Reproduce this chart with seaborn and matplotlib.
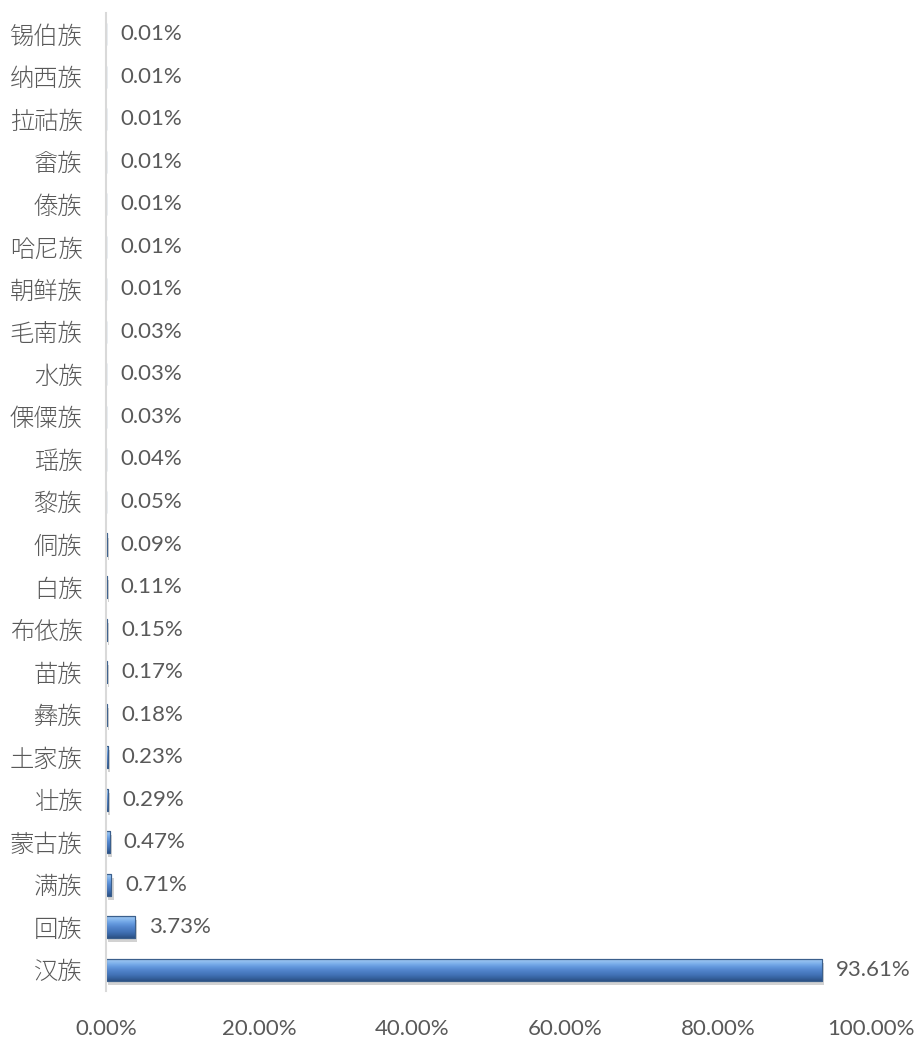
import numpy as np
import pandas as pd
import matplotlib
matplotlib.use("Agg")
import matplotlib.pyplot as plt
import matplotlib.patheffects as pe
import seaborn as sns
from matplotlib.colors import LinearSegmentedColormap

categories = ["锡伯族", "纳西族", "拉祜族", "畲族", "傣族", "哈尼族", "朝鲜族", "毛南族",
              "水族", "傈僳族", "瑶族", "黎族", "侗族", "白族", "布依族", "苗族", "彝族",
              "土家族", "壮族", "蒙古族", "满族", "回族", "汉族"]
values = [0.01, 0.01, 0.01, 0.01, 0.01, 0.01, 0.01, 0.03, 0.03, 0.03, 0.04, 0.05, 0.09,
          0.11, 0.15, 0.17, 0.18, 0.23, 0.29, 0.47, 0.71, 3.73, 93.61]
xticks = [0, 20, 40, 60, 80, 100]

sns.set_theme(style="white")
plt.rcParams['font.family'] = ['Noto Sans CJK JP', 'Noto Sans CJK SC', 'DejaVu Sans']

df = pd.DataFrame({"cat": categories, "val": values})

fig = plt.figure(figsize=(9.14, 10.39), dpi=100)
ax = fig.add_axes([0.116, 0.0462, 0.837, 0.9413])

sns.barplot(data=df, x="val", y="cat", order=categories, orient="h", ax=ax,
            color="#5a8fd6", width=0.52, edgecolor="#3b5f8c", linewidth=0.8)

ax.set_xlim(0, 100)
ax.set_ylim(len(categories) - 0.5, -0.5)

cmap = LinearSegmentedColormap.from_list(
    "bev", ["#7f9fca", "#93c0f0", "#7aaeea", "#6499de", "#5588cf", "#4a7cc2",
            "#4171b4", "#36629f", "#2c5184"])
grad = cmap(np.linspace(0, 1, 64))[:, None, :]
for p in ax.patches:
    bb = p.get_bbox()
    if bb.width <= 0:
        continue
    p.set_path_effects([pe.SimplePatchShadow(offset=(1.5, -3), shadow_rgbFace="#808080",
                                             alpha=0.35), pe.Normal()])
    im = ax.imshow(grad, extent=(bb.x0, bb.x1, bb.y1, bb.y0), origin="upper",
                   aspect="auto", zorder=p.get_zorder() + 0.1, interpolation="bilinear")
    im.set_clip_path(p)
    ol = plt.Rectangle((bb.x0, bb.y0), bb.width, bb.height, fill=False,
                       edgecolor="#3b5f8c", linewidth=0.8, zorder=p.get_zorder() + 0.2)
    ax.add_patch(ol)
ax.set_xlim(0, 100)
ax.set_ylim(len(categories) - 0.5, -0.5)

txt_color = "#595959"
num_font = ['Lato', 'DejaVu Sans']
for i, v in enumerate(values):
    ax.annotate(f"{v:.2f}%", xy=(v, i), xytext=(14, 0), textcoords="offset pixels",
                va="center", ha="left", fontsize=16, color=txt_color, family=num_font)

ax.set_xticks(xticks)
ax.set_xticklabels([f"{t:.2f}%" for t in xticks], family=num_font,
                   fontsize=16, color=txt_color)
ax.tick_params(axis="x", length=0, pad=20)
ax.tick_params(axis="y", length=0, pad=17)
for lab in ax.get_yticklabels():
    lab.set_fontsize(17.5)
    lab.set_color(txt_color)
    lab.set_family(['Noto Sans CJK JP', 'Noto Sans CJK SC', 'DejaVu Sans'])
    lab.set_fontweight(300)
ax.set_xlabel("")
ax.set_ylabel("")
for s in ["top", "right", "bottom"]:
    ax.spines[s].set_visible(False)
ax.spines["left"].set_color("#d9d9d9")
ax.spines["left"].set_linewidth(1.5)
ax.grid(False)

fig.savefig("out.png", dpi=100)
